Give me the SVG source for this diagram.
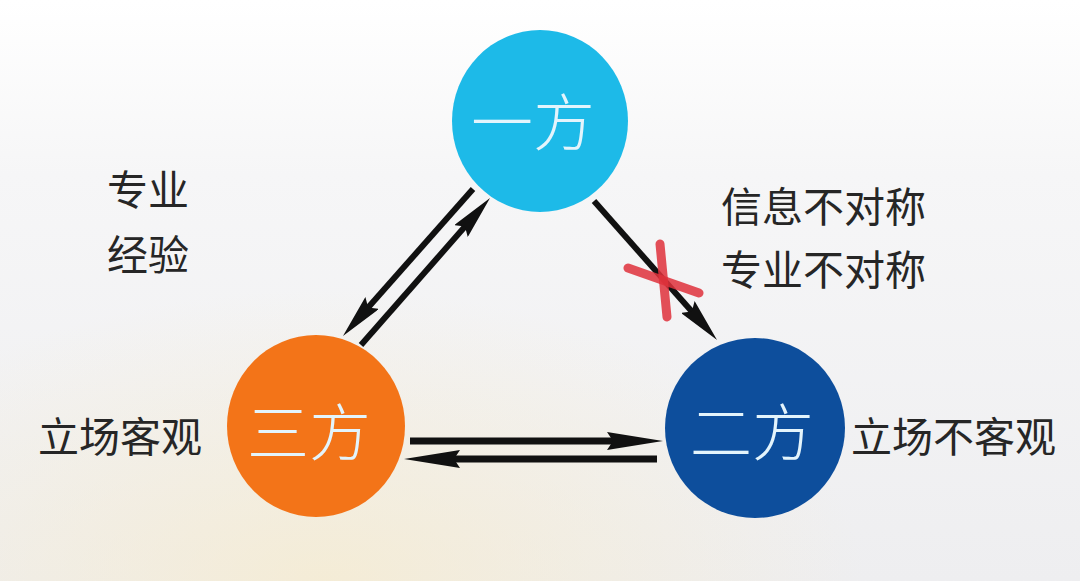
<svg xmlns="http://www.w3.org/2000/svg" width="1080" height="581" viewBox="0 0 1080 581">
<defs>
<linearGradient id="bg" x1="0" y1="0" x2="0" y2="1">
<stop offset="0" stop-color="#FFFFFF"/>
<stop offset="0.3" stop-color="#F6F6F7"/>
<stop offset="1" stop-color="#EEEEF0"/>
</linearGradient>
<radialGradient id="warm" cx="0.3" cy="1" r="0.5">
<stop offset="0" stop-color="#F7EBCB" stop-opacity="0.7"/>
<stop offset="1" stop-color="#F7EBCB" stop-opacity="0"/>
</radialGradient>
<marker id="ah" viewBox="0 0 56 18" refX="10" refY="9" markerWidth="56" markerHeight="18" markerUnits="userSpaceOnUse" orient="auto">
<path d="M0,0 L56,9 L0,18 L6,9 Z" fill="#111"/>
</marker>
<marker id="ahd" viewBox="0 0 44 18" refX="10" refY="9" markerWidth="44" markerHeight="18" markerUnits="userSpaceOnUse" orient="auto">
<path d="M0,0 L44,9 L0,18 L6,9 Z" fill="#111"/>
</marker>
<style>
.lbl{font-family:"Noto Sans CJK SC","Noto Sans",sans-serif;font-size:41px;fill:#262626;}
.nt{font-family:"Noto Sans CJK SC","Noto Sans",sans-serif;font-weight:300;font-size:62px;fill:#E3F4FC;text-anchor:middle;}
.ar{stroke:#111;stroke-width:7;fill:none;marker-end:url(#ah);}
.ard{stroke:#111;stroke-width:6;fill:none;marker-end:url(#ahd);}
.x{stroke:#E0323C;stroke-width:9;stroke-linecap:round;opacity:0.85;}
</style>
</defs>
<rect width="1080" height="581" fill="url(#bg)"/>
<rect width="1080" height="581" fill="url(#warm)"/>
<g id="connectors">
<line class="ard" x1="473" y1="189" x2="365.5" y2="310.5"/>
<line class="ard" x1="361" y1="345" x2="467.6" y2="223.6"/>
<line class="ard" x1="594" y1="201" x2="694.5" y2="314.5"/>
<line class="ar" x1="410" y1="441" x2="617" y2="441"/>
<line class="ar" x1="657" y1="459" x2="450" y2="459"/>
<g id="cross">
<line class="x" x1="628" y1="268" x2="699" y2="293"/>
<line class="x" x1="660" y1="244" x2="667" y2="317"/>
</g>
</g>
<g id="node-yifang">
<ellipse cx="540" cy="121" rx="88" ry="91" fill="#1DBAE8"/>
<text class="nt" x="533" y="146">一方</text>
</g>
<g id="node-sanfang">
<ellipse cx="316" cy="426" rx="89" ry="91" fill="#F37418"/>
<text class="nt" x="309" y="456">三方</text>
</g>
<g id="node-erfang">
<ellipse cx="755" cy="428" rx="90" ry="90" fill="#0D4E9C"/>
<text class="nt" x="752" y="456">二方</text>
</g>
<g id="labels">
<text class="lbl" x="107" y="205">专业</text>
<text class="lbl" x="107" y="270">经验</text>
<text class="lbl" x="721" y="222">信息不对称</text>
<text class="lbl" x="721" y="285">专业不对称</text>
<text class="lbl" x="38" y="452">立场客观</text>
<text class="lbl" x="851" y="452">立场不客观</text>
</g>
</svg>
